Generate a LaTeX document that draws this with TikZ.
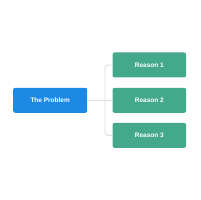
\documentclass[tikz,border=0pt]{standalone}
\usepackage{fontspec}
\setmainfont{Liberation Sans}
\definecolor{pblue}{HTML}{1E88E5}
\definecolor{rgreen}{HTML}{43A98A}
\definecolor{conn}{HTML}{DDDDDD}
\begin{document}
\begin{tikzpicture}[x=1pt,y=-1pt,
  box/.style={rounded corners=2pt, minimum height=25pt, inner sep=0pt, text=white, font=\fontsize{6.5}{7}\selectfont\bfseries},
  probbox/.style={box, fill=pblue, minimum width=74pt},
  reasonbox/.style={box, fill=rgreen, minimum width=73.5pt},
  link/.style={draw=conn, line width=0.9pt, rounded corners=3pt}]
\useasboundingbox (0,0) rectangle (200,200);
\node[probbox] (p) at (50.2,100.3) {The Problem};
\node[reasonbox] (r1) at (149.3,65) {Reason 1};
\node[reasonbox] (r2) at (149.3,100.3) {Reason 2};
\node[reasonbox] (r3) at (149.3,135.4) {Reason 3};
\coordinate (j) at (105,100.3);
\draw[link] (p.east) -- (r2.west);
\draw[link] (r1.west) -| (j) |- (r3.west);
\end{tikzpicture}
\end{document}
